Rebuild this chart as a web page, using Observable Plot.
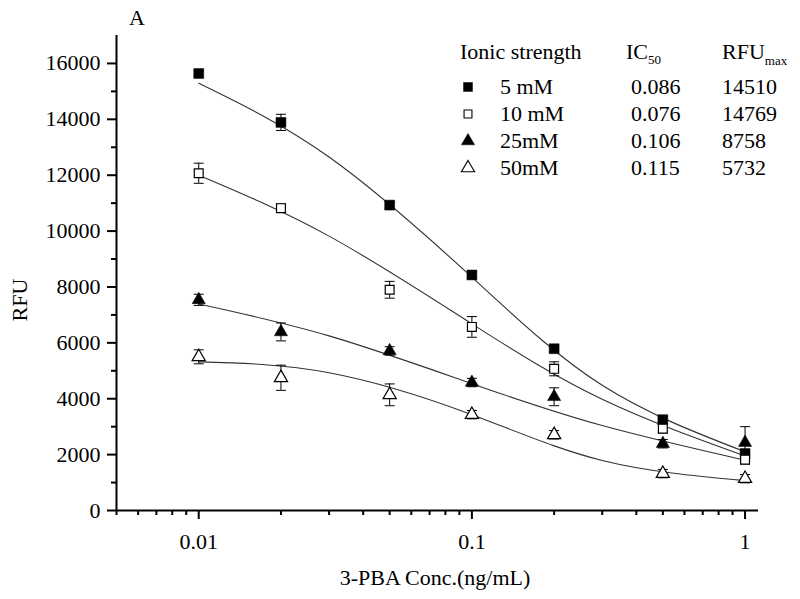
<!DOCTYPE html>
<html>
<head>
<meta charset="utf-8">
<script src="https://cdn.jsdelivr.net/npm/d3@7"></script>
<script src="https://cdn.jsdelivr.net/npm/@observablehq/plot@0.6"></script>
<style>
  html, body { margin: 0; padding: 0; background: white; }
  #chart { position: relative; width: 800px; height: 599px; }
</style>
</head>
<body>
<div id="chart"></div>
<script>
// ---- data ----
const conc = [0.01, 0.02, 0.05, 0.1, 0.2, 0.5, 1];
const seriesNames = ["5 mM", "10 mM", "25mM", "50mM"];
const ic50 = ["0.086", "0.076", "0.106", "0.115"];
const rfuMax = ["14510", "14769", "8758", "5732"];

const rfu5  = [15640, 13890, 10930, 8430, 5790, 3250, 2040];
const err5  = [100, 290, 120, 120, 120, 120, 120];
const rfu10 = [12070, 10820, 7900, 6570, 5070, 2930, 1820];
const err10 = [360, 150, 300, 370, 250, 150, 150];
const rfu25 = [7540, 6390, 5710, 4580, 4070, 2390, 2430];
const err25 = [200, 320, 150, 150, 320, 150, 570];
const rfu50 = [5500, 4750, 4140, 3430, 2710, 1320, 1140];
const err50 = [250, 450, 390, 150, 150, 150, 150];

// fitted curves at evenly spaced (log) concentrations
const fitConc = [0.01, 0.03, 0.1, 0.3, 1];
const fit5  = [15290, 12650, 8350, 4480, 2100];
const fit10 = [12000, 9820, 6680, 3980, 1950];
const fit25 = [7390, 6250, 4540, 3040, 1800];
const fit50 = [5320, 4930, 3430, 1790, 1070];

const xMajorTicks = [0.01, 0.1, 1];
const xMinorTicks = [0.005, 0.006, 0.007, 0.008, 0.009, 0.02, 0.03, 0.04, 0.05, 0.06, 0.07, 0.08, 0.09,
                     0.2, 0.3, 0.4, 0.5, 0.6, 0.7, 0.8, 0.9];
const yMajorTicks = [0, 2000, 4000, 6000, 8000, 10000, 12000, 14000, 16000];
const yMinorTicks = [1000, 3000, 5000, 7000, 9000, 11000, 13000, 15000];

const panelLabel = "A";
const xLabel = "3-PBA Conc.(ng/mL)";
const yLabel = "RFU";

// ---- build tables ----
const valueArrays = [rfu5, rfu10, rfu25, rfu50];
const errArrays = [err5, err10, err25, err50];
const fitArrays = [fit5, fit10, fit25, fit50];
const points = seriesNames.flatMap((s, i) => conc.map((c, j) => ({
  series: s, idx: i, conc: c, rfu: valueArrays[i][j], err: errArrays[i][j]
})));
const fits = seriesNames.flatMap((s, i) => fitConc.map((c, j) => ({series: s, conc: c, rfu: fitArrays[i][j]})));

const symbolOf = ["square", "square", "triangle", "triangle"];
const filledOf = [true, false, true, false];
const rOf = [5.6, 5.0, 4.9, 4.9];

const capSymbol = {draw(ctx) { ctx.moveTo(-5, 0); ctx.lineTo(5, 0); }};

const font = "Liberation Serif, Times New Roman, serif";

const markerMarks = seriesNames.map((s, i) => Plot.dot(points.filter(d => d.idx === i), {
  x: "conc", y: "rfu", symbol: symbolOf[i], r: rOf[i],
  fill: filledOf[i] ? "black" : "white", stroke: "black", strokeWidth: filledOf[i] ? 0.5 : 1.2
}));

const chart = Plot.plot({
  width: 800, height: 599,
  marginLeft: 116, marginRight: 42, marginTop: 35, marginBottom: 89,
  style: {fontFamily: font, fontSize: "22px", color: "black", background: "white", overflow: "visible"},
  x: {type: "log", domain: [0.005, 1.12]},
  y: {domain: [0, 17000]},
  marks: [
    Plot.axisX({ticks: xMajorTicks, tickSize: 9, tickPadding: 14, tickFormat: d => String(d), label: null, strokeWidth: 2}),
    Plot.axisX({ticks: xMinorTicks, tickSize: 5, tickFormat: () => "", label: null, strokeWidth: 2}),
    Plot.axisY({ticks: yMajorTicks, tickSize: 9, tickPadding: 7, tickFormat: d3.format("d"), label: null, strokeWidth: 2}),
    Plot.axisY({ticks: yMinorTicks, tickSize: 5, tickFormat: () => "", label: null, strokeWidth: 2}),
    Plot.ruleY([0], {strokeWidth: 2, stroke: "black"}),
    Plot.ruleX([0.005], {strokeWidth: 2, stroke: "black"}),
    Plot.line(fits, {x: "conc", y: "rfu", z: "series", stroke: "#333", strokeWidth: 1.1, curve: "natural"}),
    Plot.ruleX(points, {x: "conc", y1: d => d.rfu - d.err, y2: d => d.rfu + d.err, stroke: "black", strokeWidth: 1}),
    Plot.dot(points, {x: "conc", y: d => d.rfu + d.err, symbol: capSymbol, stroke: "black", strokeWidth: 1}),
    Plot.dot(points, {x: "conc", y: d => d.rfu - d.err, symbol: capSymbol, stroke: "black", strokeWidth: 1}),
    ...markerMarks
  ]
});

document.getElementById("chart").appendChild(chart);

// ---- annotations: labels and legend table ----
const svg = d3.select(chart);
const g = svg.append("g").attr("font-family", font).attr("font-size", 22).attr("fill", "black")
  .attr("text-anchor", "start");

g.append("text").attr("x", 137).attr("y", 25).attr("text-anchor", "middle").text(panelLabel);
g.append("text").attr("x", 435).attr("y", 585).attr("text-anchor", "middle").text(xLabel);
g.append("text").attr("transform", "translate(27,300) rotate(-90)").attr("text-anchor", "middle").text(yLabel);

// legend header
const headerY = 59;
g.append("text").attr("x", 460).attr("y", headerY).text("Ionic strength");
const ic = g.append("text").attr("x", 626).attr("y", headerY);
ic.append("tspan").text("IC");
ic.append("tspan").attr("font-size", 13).attr("dy", 5).text("50");
const rm = g.append("text").attr("x", 722).attr("y", headerY);
rm.append("tspan").text("RFU");
rm.append("tspan").attr("font-size", 13).attr("dy", 6).text("max");

const rowY = [87, 114, 141, 168];
const symSize = [80, 62, 75, 75];
seriesNames.forEach((s, i) => {
  const y = rowY[i];
  const sym = d3.symbol().type(symbolOf[i] === "square" ? d3.symbolSquare : d3.symbolTriangle).size(symSize[i]);
  g.append("path").attr("d", sym()).attr("transform", `translate(468,${y})`)
    .attr("fill", filledOf[i] ? "black" : "white").attr("stroke", "black").attr("stroke-width", filledOf[i] ? 0.5 : 1.1);
  g.append("text").attr("x", 500).attr("y", y + 7).text(s);
  g.append("text").attr("x", 631).attr("y", y + 7).text(ic50[i]);
  g.append("text").attr("x", 722).attr("y", y + 7).text(rfuMax[i]);
});
</script>
</body>
</html>
